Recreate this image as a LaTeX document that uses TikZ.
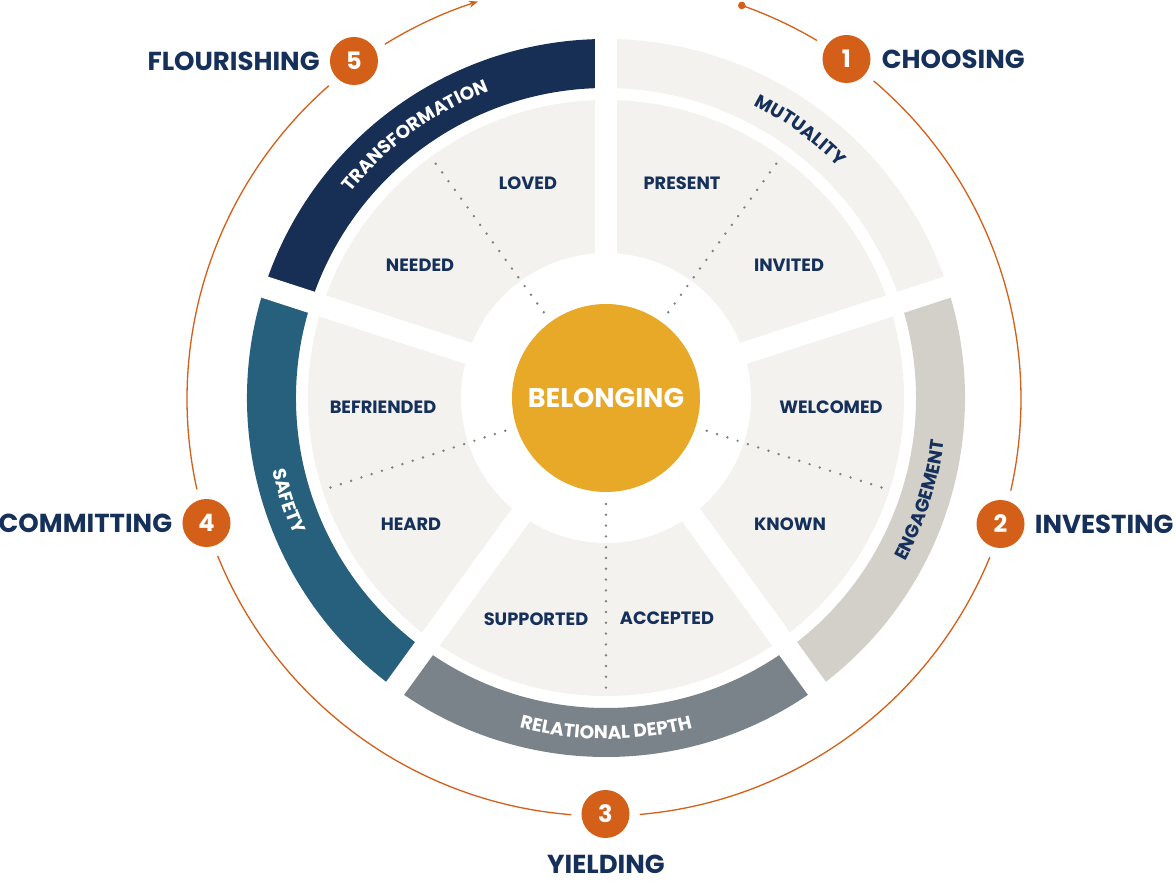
\documentclass[tikz,border=0pt]{standalone}
\usepackage{fontspec}
\newfontfamily\pop{Poppins}
\usetikzlibrary{decorations.text,arrows.meta}
\definecolor{navy}{HTML}{15305A}
\definecolor{orng}{HTML}{D45F19}
\definecolor{gold}{HTML}{E8A828}
\definecolor{wedgec}{HTML}{F3F2EF}
\definecolor{bandA}{HTML}{F3F2EF}
\definecolor{bandB}{HTML}{D3D0CA}
\definecolor{bandC}{HTML}{7B838A}
\definecolor{bandD}{HTML}{27607D}
\definecolor{bandE}{HTML}{172F55}
\definecolor{dotc}{HTML}{7B838A}
\newcommand\bandfont{\pop\bfseries\fontsize{18.5}{18.5}\selectfont}
\newcommand\mysector[5]{\fill[#1] (#2:#4pt) arc[start angle=#2,end angle=#3,radius=#4pt] -- (#3:#5pt) arc[start angle=#3,end angle=#2,radius=#5pt] -- cycle;}
\begin{document}
\begin{tikzpicture}[x=1pt,y=1pt,
  wl/.style={text=navy,font=\pop\bfseries\fontsize{17.8}{17.8}\selectfont,inner sep=0pt},
  ol/.style={text=navy,font=\pop\bfseries\fontsize{26}{26}\selectfont,inner sep=0pt},
  numc/.style={circle,fill=orng,minimum size=48pt,inner sep=0pt,text=white,font=\pop\bfseries\fontsize{24}{24}\selectfont},
  ring/.style={orng,line width=1.3pt},
  dots/.style={dotc,line width=2.7pt,line cap=round,dash pattern=on 0pt off 10.8pt}]
\useasboundingbox (-606,-485) rectangle (570,398);
\fill[white] (-606,-485) rectangle (570,398);
% wedges
\fill[wedgec,even odd rule] (0,0) circle (298pt) (0,0) circle (145pt);
% outer bands
\mysector{bandA}{18}{90}{310}{359}
\mysector{bandB}{-54}{18}{310}{359}
\mysector{bandC}{-126}{-54}{310}{359}
\mysector{bandD}{-198}{-126}{310}{359}
\mysector{bandE}{90}{162}{310}{359}
% white gaps
\foreach \a in {90,18,-54,-126,162} \draw[white,line width=22pt] (\a:130pt) -- (\a:365pt);
% dotted dividers
\foreach \a in {54,-18,-90,198,126} \draw[dots] (\a:106pt) -- (\a:295pt);
% centre
\fill[gold] (0,0) circle (94pt);
\node[text=white,font=\pop\bfseries\fontsize{27}{27}\selectfont,inner sep=0pt] (bel) at (0,0) {BELONGING};
% wedge labels
\node[wl] (present) at (76,215) {PRESENT};
\node[wl] (invited) at (183,133) {INVITED};
\node[wl] (welcomed) at (225,-9) {WELCOMED};
\node[wl] (known) at (184,-126) {KNOWN};
\node[wl] (accepted) at (61,-220) {ACCEPTED};
\node[wl] (supported) at (-70,-221) {SUPPORTED};
\node[wl] (heard) at (-195,-126) {HEARD};
\node[wl] (befriended) at (-223,-9) {BEFRIENDED};
\node[wl] (needed) at (-186,133) {NEEDED};
\node[wl] (loved) at (-78,215) {LOVED};
% band labels
\path[decorate,decoration={text along path,text align=center,text color=white,text={|\bandfont|TRANSFORMATION}}] (160:328pt) arc[start angle=160,end angle=92,radius=328pt];
\path[decorate,decoration={text along path,text align=center,text color=navy,text={|\bandfont|MUTUALITY}}] (88:328pt) arc[start angle=88,end angle=20,radius=328pt];
\path[decorate,decoration={text along path,text align=center,text color=navy,text={|\bandfont|ENGAGEMENT}}] (-52:341pt) arc[start angle=-52,end angle=16,radius=341pt];
\path[decorate,decoration={text along path,text align=center,text color=white,text={|\bandfont|RELATIONAL DEPTH}}] (-124:341pt) arc[start angle=-124,end angle=-56,radius=341pt];
\path[decorate,decoration={text along path,text align=center,text color=white,text={|\bandfont|SAFETY}}] (164:341pt) arc[start angle=164,end angle=232,radius=341pt];
% orange cycle
\begin{scope}[shift={(-2,-1)}]
\draw[ring] (70.7:417pt) arc[start angle=70.7,end angle=59.3,radius=417pt];
\draw[ring] (49.7:417pt) arc[start angle=49.7,end angle=-12.7,radius=417pt];
\draw[ring] (-22.3:417pt) arc[start angle=-22.3,end angle=-85.1,radius=417pt];
\draw[ring] (-94.5:417pt) arc[start angle=-94.5,end angle=-157.9,radius=417pt];
\draw[ring] (-167.5:417pt) arc[start angle=-167.5,end angle=-228.7,radius=417pt];
\draw[ring,-{Stealth[length=9pt,width=7pt]}] (-238.3:417pt) arc[start angle=-238.3,end angle=-252.4,radius=417pt];
\fill[orng] (70.7:417pt) circle (3.8pt);
\end{scope}
% numbered stages
\node[numc] (n1) at (240.5,339) {1};
\node[numc] (n2) at (394.5,-126) {2};
\node[numc] (n3) at (-0.5,-416) {3};
\node[numc] (n4) at (-399.5,-125) {4};
\node[numc] (n5) at (-252,337) {5};
\node[ol,anchor=west] (l1) at ([xshift=11pt]n1.east) {CHOOSING};
\node[ol,anchor=west] (l2) at ([xshift=10pt]n2.east) {INVESTING};
\node[ol] (l3) at (0,-466) {YIELDING};
\node[ol,anchor=east] (l4) at ([xshift=-10pt]n4.west) {COMMITTING};
\node[ol,anchor=east] (l5) at ([xshift=-10pt]n5.west) {FLOURISHING};
\end{tikzpicture}
\end{document}
